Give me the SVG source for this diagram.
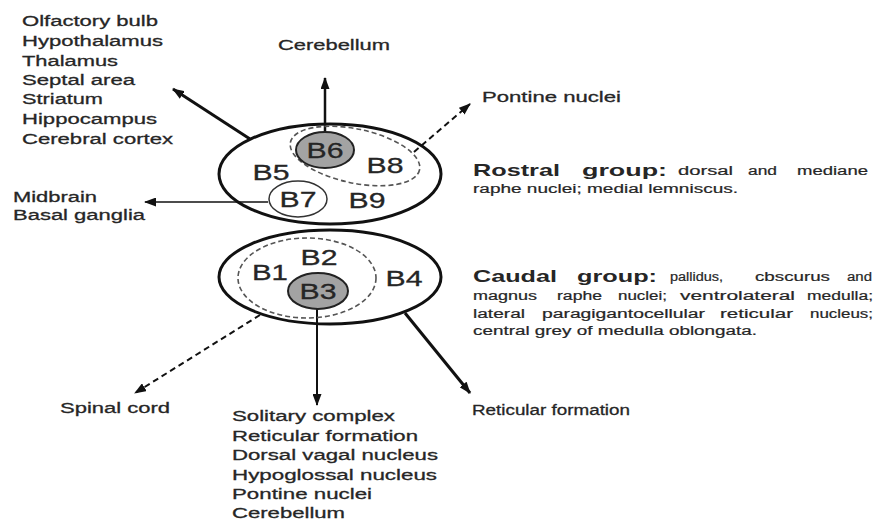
<svg xmlns="http://www.w3.org/2000/svg" width="882" height="520" viewBox="0 0 882 520">
<defs>
<style>
text{font-family:"Liberation Sans",Arial,sans-serif;fill:#262626}
.lbl{font-size:15.5px;stroke:#262626;stroke-width:0.3}
.b{font-size:22px;stroke:#222;stroke-width:0.3}
.hd{font-size:17px;font-weight:bold}
.sm{font-size:12px;stroke:#262626;stroke-width:0.2}
.outer{fill:none;stroke:#111;stroke-width:3}
.dash{fill:none;stroke:#555;stroke-width:1.6;stroke-dasharray:5 3}
.con{fill:none;stroke:#111}
</style>
<marker id="ah" viewBox="0 0 12 9" markerWidth="12" markerHeight="9" refX="11" refY="4.5" orient="auto" markerUnits="userSpaceOnUse">
<path d="M0,0 L12,4.5 L0,9 z" fill="#111"/>
</marker>
</defs>
<rect width="882" height="520" fill="#fff"/>

<g id="connectors">
<line class="con" x1="325" y1="132" x2="325" y2="78" stroke-width="2.5" marker-end="url(#ah)"/>
<line class="con" x1="250" y1="139" x2="173" y2="89" stroke-width="3" marker-end="url(#ah)"/>
<line class="con" x1="414" y1="152" x2="470" y2="104" stroke-width="2" stroke-dasharray="6 4" stroke="#444" marker-end="url(#ah)"/>
<line class="con" x1="268" y1="202" x2="145" y2="202" stroke-width="1.5" marker-end="url(#ah)"/>
<line class="con" x1="260" y1="315" x2="135" y2="393" stroke-width="2" stroke-dasharray="6 4" stroke="#444" marker-end="url(#ah)"/>
<line class="con" x1="317" y1="309" x2="317" y2="405" stroke-width="2" marker-end="url(#ah)"/>
<line class="con" x1="405" y1="313" x2="470" y2="393" stroke-width="3" marker-end="url(#ah)"/>
</g>

<g id="rostral">
<ellipse class="outer" cx="330" cy="174" rx="111" ry="50"/>
<ellipse class="dash" cx="355" cy="156" rx="66" ry="27" transform="rotate(12 355 156)"/>
<g id="B6"><ellipse cx="325" cy="150" rx="29" ry="18" fill="#a3a3a3" stroke="#222" stroke-width="2"/><text class="b" x="325" y="158" text-anchor="middle" textLength="37" lengthAdjust="spacingAndGlyphs">B6</text></g>
<g id="B8"><text class="b" x="385" y="173" text-anchor="middle" textLength="37" lengthAdjust="spacingAndGlyphs">B8</text></g>
<g id="B5"><text class="b" x="271" y="180" text-anchor="middle" textLength="37" lengthAdjust="spacingAndGlyphs">B5</text></g>
<g id="B7"><ellipse cx="298" cy="199" rx="29" ry="18" fill="#fff" stroke="#333" stroke-width="1.5"/><text class="b" x="298" y="207" text-anchor="middle" textLength="37" lengthAdjust="spacingAndGlyphs">B7</text></g>
<g id="B9"><text class="b" x="367" y="208" text-anchor="middle" textLength="37" lengthAdjust="spacingAndGlyphs">B9</text></g>
</g>

<g id="caudal">
<ellipse class="outer" cx="330" cy="277" rx="111" ry="47"/>
<ellipse class="dash" cx="307" cy="278" rx="69" ry="40"/>
<g id="B1"><text class="b" x="270" y="280" text-anchor="middle" textLength="36" lengthAdjust="spacingAndGlyphs">B1</text></g>
<g id="B2"><text class="b" x="319" y="265" text-anchor="middle" textLength="37" lengthAdjust="spacingAndGlyphs">B2</text></g>
<g id="B4"><text class="b" x="404" y="286" text-anchor="middle" textLength="37" lengthAdjust="spacingAndGlyphs">B4</text></g>
<g id="B3"><ellipse cx="318" cy="291" rx="30" ry="18" fill="#a3a3a3" stroke="#222" stroke-width="2"/><text class="b" x="318" y="299" text-anchor="middle" textLength="37" lengthAdjust="spacingAndGlyphs">B3</text></g>
</g>

<g id="forebrain-targets">
<text class="lbl" x="22" y="26" textLength="136" lengthAdjust="spacingAndGlyphs">Olfactory bulb</text>
<text class="lbl" x="22" y="46" textLength="141" lengthAdjust="spacingAndGlyphs">Hypothalamus</text>
<text class="lbl" x="22" y="66" textLength="96" lengthAdjust="spacingAndGlyphs">Thalamus</text>
<text class="lbl" x="22" y="85" textLength="113" lengthAdjust="spacingAndGlyphs">Septal area</text>
<text class="lbl" x="22" y="104" textLength="81" lengthAdjust="spacingAndGlyphs">Striatum</text>
<text class="lbl" x="22" y="124" textLength="135" lengthAdjust="spacingAndGlyphs">Hippocampus</text>
<text class="lbl" x="22" y="144" textLength="151" lengthAdjust="spacingAndGlyphs">Cerebral cortex</text>
</g>
<g id="cerebellum"><text class="lbl" x="278" y="50" textLength="112" lengthAdjust="spacingAndGlyphs">Cerebellum</text></g>
<g id="pontine"><text class="lbl" x="482" y="102" textLength="139" lengthAdjust="spacingAndGlyphs">Pontine nuclei</text></g>
<g id="midbrain">
<text class="lbl" x="13" y="202" textLength="84" lengthAdjust="spacingAndGlyphs">Midbrain</text>
<text class="lbl" x="13" y="220" textLength="132" lengthAdjust="spacingAndGlyphs">Basal ganglia</text>
</g>
<g id="spinal"><text class="lbl" x="60" y="413" textLength="110" lengthAdjust="spacingAndGlyphs">Spinal cord</text></g>
<g id="reticular"><text class="lbl" x="472" y="415" textLength="158" lengthAdjust="spacingAndGlyphs">Reticular formation</text></g>
<g id="brainstem-targets">
<text class="lbl" x="232" y="421" textLength="163" lengthAdjust="spacingAndGlyphs">Solitary complex</text>
<text class="lbl" x="232" y="441" textLength="186" lengthAdjust="spacingAndGlyphs">Reticular formation</text>
<text class="lbl" x="232" y="460" textLength="206" lengthAdjust="spacingAndGlyphs">Dorsal vagal nucleus</text>
<text class="lbl" x="232" y="480" textLength="205" lengthAdjust="spacingAndGlyphs">Hypoglossal nucleus</text>
<text class="lbl" x="232" y="499" textLength="140" lengthAdjust="spacingAndGlyphs">Pontine nuclei</text>
<text class="lbl" x="232" y="518" textLength="113" lengthAdjust="spacingAndGlyphs">Cerebellum</text>
</g>

<g id="rostral-desc">
<text class="hd" x="473" y="176" textLength="87" lengthAdjust="spacingAndGlyphs">Rostral</text>
<text class="hd" x="582" y="176" textLength="85" lengthAdjust="spacingAndGlyphs">group:</text>
<text class="sm" x="678" y="175" textLength="55" lengthAdjust="spacingAndGlyphs">dorsal</text>
<text class="sm" x="748" y="175" textLength="29" lengthAdjust="spacingAndGlyphs">and</text>
<text class="sm" x="797" y="175" textLength="71" lengthAdjust="spacingAndGlyphs">mediane</text>
<text class="sm" x="473" y="193" textLength="265" lengthAdjust="spacingAndGlyphs">raphe nuclei; medial lemniscus.</text>
</g>

<g id="caudal-desc">
<text class="hd" x="473" y="282" textLength="84" lengthAdjust="spacingAndGlyphs">Caudal</text>
<text class="hd" x="577" y="282" textLength="80" lengthAdjust="spacingAndGlyphs">group:</text>
<text class="sm" x="670" y="281" textLength="53" lengthAdjust="spacingAndGlyphs">pallidus,</text>
<text class="sm" x="755" y="281" textLength="75" lengthAdjust="spacingAndGlyphs">cbscurus</text>
<text class="sm" x="847" y="281" textLength="25" lengthAdjust="spacingAndGlyphs">and</text>
<text class="sm" x="473" y="300" textLength="64" lengthAdjust="spacingAndGlyphs">magnus</text>
<text class="sm" x="557" y="300" textLength="45" lengthAdjust="spacingAndGlyphs">raphe</text>
<text class="sm" x="618" y="300" textLength="49" lengthAdjust="spacingAndGlyphs">nuclei;</text>
<text class="sm" x="680" y="300" textLength="115" lengthAdjust="spacingAndGlyphs">ventrolateral</text>
<text class="sm" x="807" y="300" textLength="66" lengthAdjust="spacingAndGlyphs">medulla;</text>
<text class="sm" x="473" y="318" textLength="52" lengthAdjust="spacingAndGlyphs">lateral</text>
<text class="sm" x="542" y="318" textLength="163" lengthAdjust="spacingAndGlyphs">paragigantocellular</text>
<text class="sm" x="720" y="318" textLength="73" lengthAdjust="spacingAndGlyphs">reticular</text>
<text class="sm" x="810" y="318" textLength="63" lengthAdjust="spacingAndGlyphs">nucleus;</text>
<text class="sm" x="473" y="335" textLength="284" lengthAdjust="spacingAndGlyphs">central grey of medulla oblongata.</text>
</g>
</svg>
